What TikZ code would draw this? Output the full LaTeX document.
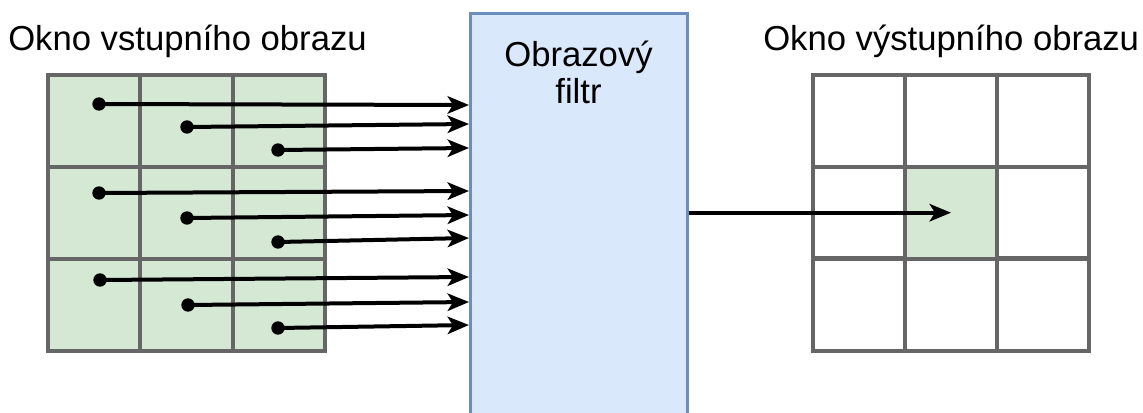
\documentclass[tikz,border=0pt]{standalone}
\usepackage{fontspec}
\setmainfont{Liberation Sans}
\usetikzlibrary{arrows.meta,positioning}
\definecolor{gridgray}{HTML}{666666}
\definecolor{cellgreen}{HTML}{D5E8D4}
\definecolor{filterfill}{HTML}{DAE8FC}
\definecolor{filterdraw}{HTML}{6C8EBF}

\begin{document}
\begin{tikzpicture}[x=0.75pt,y=-0.75pt,
		font=\fontsize{26}{27.75}\selectfont,
		cell/.style={draw=gridgray,line width=3pt,minimum size=69.2pt,inner sep=0pt,outer sep=0pt},
		filterbox/.style={draw=filterdraw,fill=filterfill,line width=2.25pt,minimum width=162.75pt,minimum height=315pt,inner sep=0pt},
		dot/.style={circle,fill=black,minimum size=10pt,inner sep=0pt},
		arr/.style={-{Stealth[length=16pt,width=13pt,inset=4pt]},line width=3pt}]
	\clip (0,0) rectangle (1143,412);
	% grids
	\foreach \r in {0,1,2}
		\foreach \c in {0,1,2}{
			\node[cell,fill=cellgreen] (in-\r-\c) at ({94.2+92.3*\c},{121+92*\r}) {};
			\node[cell] (out-\r-\c) at ({859+92*\c},{121+91.7*\r}) {};
		}
	\node[cell,fill=cellgreen] at (out-1-1) {};
	% filter
	\node[filterbox,anchor=north] (filter) at (578.5,12) {};
	\node[anchor=north,align=center,inner sep=0pt] (ftext) at (578.5,41) {Obrazový\\filtr};
	% labels
	\node[anchor=base west,inner sep=0pt] (inlabel) at (8,50) {Okno vstupního obrazu};
	\node[anchor=base west,inner sep=0pt] (outlabel) at (763,50) {Okno výstupního obrazu};
	% pixel arrows
	\foreach \i/\x/\y/\ye in {1/99/104/105,2/187/127/124,3/278/150/148,
			4/99/193/191,5/187/218/215,6/278/242/238,
			7/100/280/277,8/188/305/302,9/278/328/325}{
		\node[dot] (d-\i) at (\x,\y) {};
		\coordinate (e-\i) at (469,\ye);
		\draw[arr] (d-\i.center) -- (e-\i);
	}
	\draw[arr] (filter.east |- out-1-1.center) -- (out-1-1.center);
\end{tikzpicture}
\end{document}
